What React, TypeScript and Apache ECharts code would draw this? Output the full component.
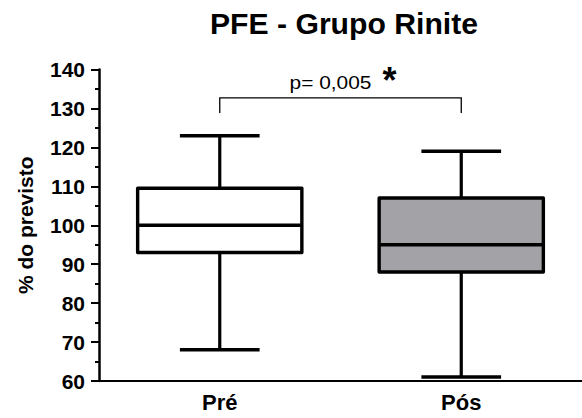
import React, { useEffect, useRef } from "react";
import * as echarts from "echarts";

const categories = ["Pré", "Pós"];
// [min, Q1, median, Q3, max]
const boxStats = [
  [68, 93, 100, 109.5, 123],
  [61, 88, 95, 107, 119],
];
const boxFills = ["#ffffff", "#a3a2a6"];
const yTicks = { min: 60, max: 140, interval: 10 };
const pLabel = "p= 0,005";
const titleText = "PFE - Grupo Rinite";
const FONT = "'Liberation Sans', Arial, Helvetica, sans-serif";

export default function App() {
  const ref = useRef<HTMLDivElement>(null);
  useEffect(() => {
    if (!ref.current) return;
    const chart = echarts.init(ref.current, undefined, { renderer: "svg" });

    const data = boxStats.map((s, i) => [i, ...s]);

    chart.setOption({
      animation: false,
      backgroundColor: "#ffffff",
      graphic: [
        {
          type: "text",
          x: 344,
          y: 24,
          scaleX: 1.04,
          style: {
            text: titleText,
            textAlign: "center",
            textVerticalAlign: "middle",
            fontFamily: FONT,
            fontWeight: "bold",
            fontSize: 29,
            fill: "#000",
          },
        },
      ],
      grid: { left: 99, right: -8, top: 69.5, bottom: 37, containLabel: false },
      xAxis: {
        type: "category",
        data: categories,
        axisLine: { lineStyle: { color: "#000", width: 2 } },
        axisTick: { alignWithLabel: true, length: 5, lineStyle: { color: "#000", width: 2.5 } },
        axisLabel: { fontFamily: FONT, fontWeight: "bold", fontSize: 22, color: "#000", margin: 10 },
        splitLine: { show: false },
      },
      yAxis: {
        type: "value",
        min: yTicks.min,
        max: yTicks.max,
        interval: yTicks.interval,
        name: "% do previsto",
        nameLocation: "middle",
        nameGap: 63,
        nameTextStyle: { fontFamily: FONT, fontWeight: "bold", fontSize: 21, color: "#000" },
        axisLine: { show: true, lineStyle: { color: "#000", width: 2.5 } },
        axisTick: { show: true, length: 8, lineStyle: { color: "#000", width: 2 } },
        minorTick: { show: true, splitNumber: 2, length: 4, lineStyle: { color: "#000", width: 2 } },
        axisLabel: { fontFamily: FONT, fontWeight: "bold", fontSize: 21, color: "#000", margin: 14 },
        splitLine: { show: false },
      },
      series: [
        {
          type: "custom",
          data,
          clip: false,
          renderItem: (params: any, api: any) => {
            const x = api.value(0);
            const vals = [1, 2, 3, 4, 5].map((k) => api.value(k));
            const [cx, yMin] = api.coord([x, vals[0]]);
            const yQ1 = api.coord([x, vals[1]])[1];
            const yMed = api.coord([x, vals[2]])[1];
            const yQ3 = api.coord([x, vals[3]])[1];
            const yMax = api.coord([x, vals[4]])[1];
            const band = api.size([1, 0])[0];
            const bw = band * 0.68;
            const cw = band * 0.33;
            const line = { stroke: "#000", lineWidth: 3.2 };
            return {
              type: "group",
              children: [
                { type: "line", shape: { x1: cx, y1: yMax, x2: cx, y2: yQ3 }, style: line },
                { type: "line", shape: { x1: cx, y1: yQ1, x2: cx, y2: yMin }, style: line },
                { type: "line", shape: { x1: cx - cw / 2, y1: yMax, x2: cx + cw / 2, y2: yMax }, style: { ...line, lineWidth: 3.5 } },
                { type: "line", shape: { x1: cx - cw / 2, y1: yMin, x2: cx + cw / 2, y2: yMin }, style: { ...line, lineWidth: 3.5 } },
                {
                  type: "rect",
                  shape: { x: cx - bw / 2, y: yQ3, width: bw, height: yQ1 - yQ3 },
                  style: { fill: boxFills[params.dataIndex], stroke: "#000", lineWidth: 3.4, lineJoin: "round" },
                },
                { type: "line", shape: { x1: cx - bw / 2, y1: yMed, x2: cx + bw / 2, y2: yMed }, style: { ...line, lineWidth: 3.4 } },
              ],
            };
          },
        },
        {
          // significance bracket between the two groups
          type: "custom",
          data: [[0, 1]],
          clip: false,
          renderItem: (params: any, api: any) => {
            const [x1, yTop] = api.coord([0, 132.7]);
            const x2 = api.coord([1, 132.7])[0];
            const yLeg = api.coord([0, 128.8])[1];
            const s = { stroke: "#000", lineWidth: 1.3 };
            const mid = (x1 + x2) / 2;
            return {
              type: "group",
              children: [
                { type: "polyline", shape: { points: [[x1, yLeg], [x1, yTop], [x2, yTop], [x2, yLeg]] }, style: { ...s, fill: "none" } },
                {
                  type: "text",
                  x: mid - 10,
                  y: yTop - 16,
                  scaleX: 1.1,
                  style: {
                    text: pLabel,
                    textAlign: "center",
                    textVerticalAlign: "middle",
                    fontFamily: FONT,
                    fontSize: 19,
                    fill: "#000",
                  },
                },
                {
                  type: "text",
                  x: mid + 49,
                  y: yTop - 17,
                  style: {
                    text: "*",
                    textAlign: "center",
                    textVerticalAlign: "middle",
                    fontFamily: FONT,
                    fontWeight: "bold",
                    fontSize: 36,
                    fill: "#000",
                  },
                },
              ],
            };
          },
        },
      ],
    });
    return () => chart.dispose();
  }, []);
  return (
    <div
      ref={ref}
      style={{ position: "fixed", left: 0, top: 0, width: 582, height: 418 }}
    />
  );
}
